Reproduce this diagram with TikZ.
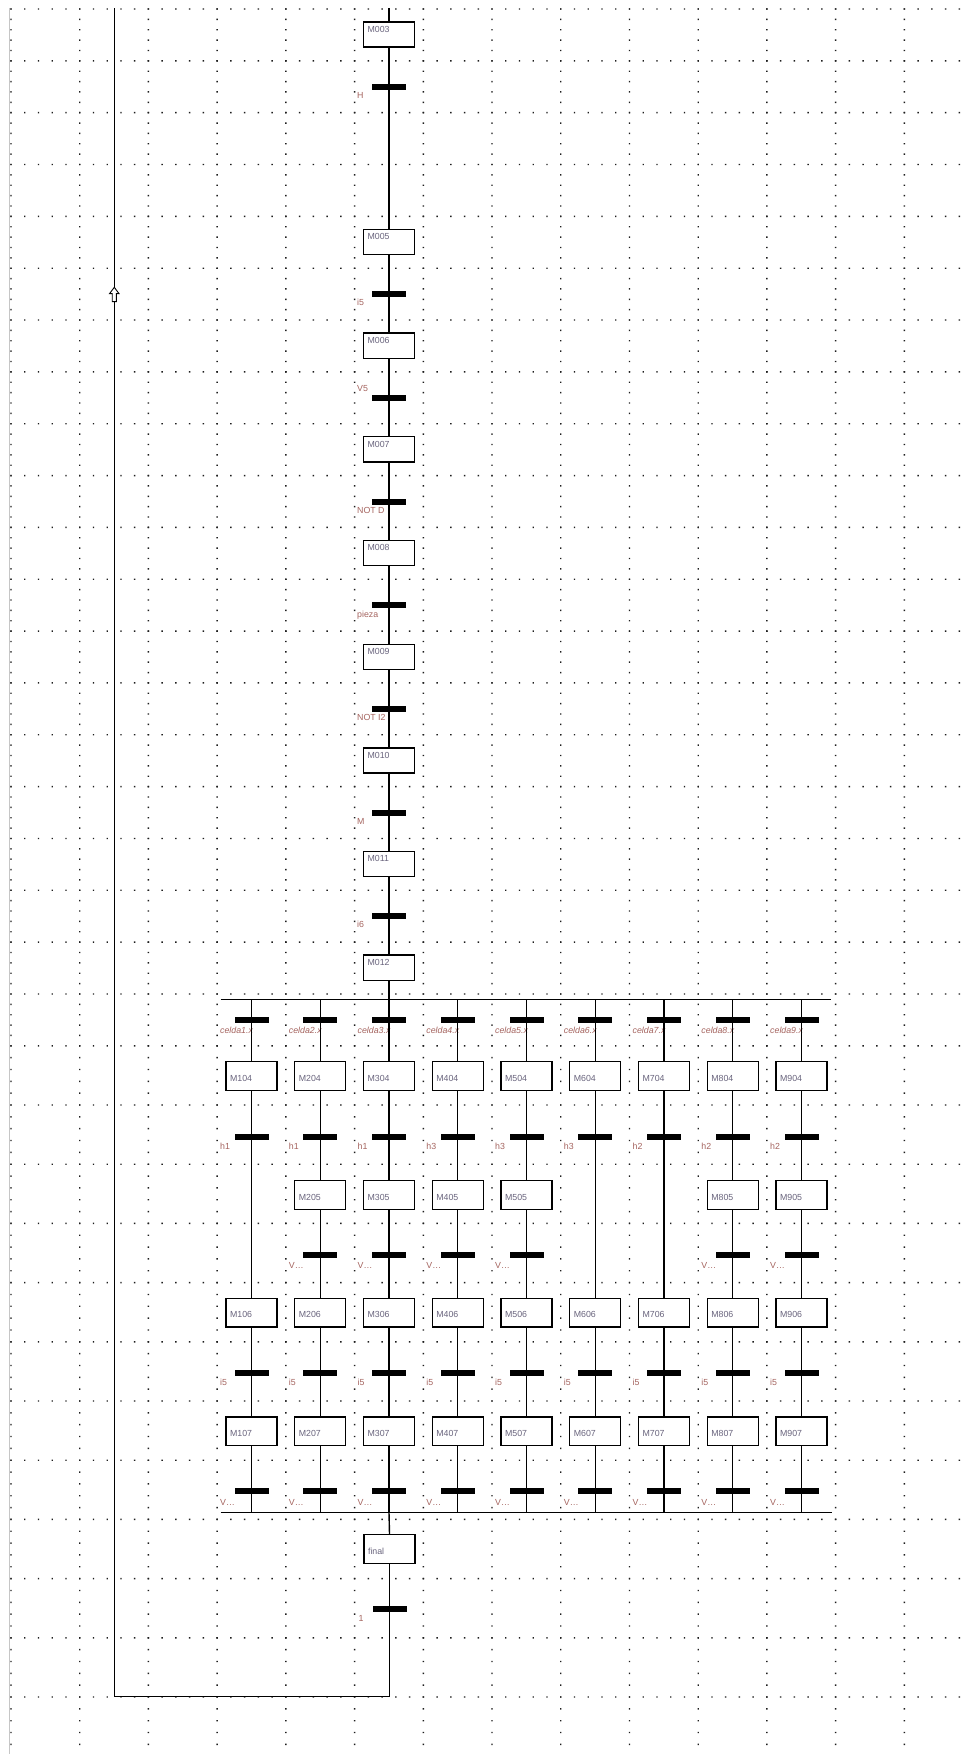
\documentclass[tikz,border=0pt]{standalone}
\usepackage{fontspec}
\setmainfont{Liberation Sans}
\definecolor{stxt}{RGB}{105,100,125}
\definecolor{ttxt}{RGB}{165,100,95}
\definecolor{dotc}{RGB}{30,30,30}
\begin{document}
\begin{tikzpicture}[x=1pt,y=-1pt,
  stepbox/.style={draw, line width=1.3pt, fill=white, minimum width=51pt, minimum height=25.1pt, inner sep=0pt},
  pstep/.style={stepbox, minimum height=28.7pt},
  steptxt/.style={anchor=west, xshift=4.5pt, yshift=-8pt, inner sep=0pt, font=\fontsize{8.8}{10}\selectfont, text=stxt},
  ptxt/.style={steptxt, yshift=-9pt},
  trbar/.style={fill=black, minimum width=34pt, minimum height=6pt, inner sep=0pt},
  trlab/.style={anchor=west, inner sep=0pt, text height=6.4pt, text depth=0pt, font=\fontsize{8.8}{10}\selectfont, text=ttxt},
  flow/.style={line width=1.4pt},
  bus/.style={line width=1.3pt},
]
\useasboundingbox (0,0) rectangle (964,1754);
\fill[white] (0,0) rectangle (964,1754);

% ---------- dotted grid ----------
\foreach \k in {0,...,31}{
  \pgfmathsetmacro\ry{ifthenelse(\k<=20, 9+51.84*\k, 1045.8+59.2*(\k-20))}
  \fill[dotc] \foreach \j in {0,...,69}{ (11+13.744*\j-0.7, \ry-0.7) rectangle ++(1.4,1.4) };
}
\foreach \c in {0,...,13}{
  \pgfmathsetmacro\cx{11+68.72*\c}
  \fill[dotc] \foreach \m in {0,...,100}{ (\cx-0.7, 9+10.368*\m-0.7) rectangle ++(1.4,1.4) };
  \fill[dotc] \foreach \m in {1,...,59}{ (\cx-0.7, 1045.8+11.84*\m-0.7) rectangle ++(1.4,1.4) };
}
\coordinate (edgeT) at (9.3,8);
\coordinate (edgeB) at (9.3,1754);
\draw[gray!45, line width=0.8pt] (edgeT) -- (edgeB);

% ---------- main sequence ----------
\coordinate (top) at (389,8);
\node[stepbox, label={[steptxt]north west:M003}] (M003) at (389,34.5) {};
\node[trbar] (T1) at (389,87.3) {};
\node[trlab] (L1) at (357,95.7) {H};
\node[stepbox, label={[steptxt]north west:M005}] (M005) at (389,242.0) {};
\node[trbar] (T2) at (389,294.3) {};
\node[trlab] (L2) at (357,302.7) {i5};
\node[stepbox, label={[steptxt]north west:M006}] (M006) at (389,345.6) {};
\node[trbar] (T3) at (389,398.0) {};
\node[trlab] (L3) at (357,388.3) {V5};
\node[stepbox, label={[steptxt]north west:M007}] (M007) at (389,449.3) {};
\node[trbar] (T4) at (389,501.7) {};
\node[trlab] (L4) at (357,510.7) {NOT D};
\node[stepbox, label={[steptxt]north west:M008}] (M008) at (389,553.0) {};
\node[trbar] (T5) at (389,605.3) {};
\node[trlab] (L5) at (357,614.3) {pieza};
\node[stepbox, label={[steptxt]north west:M009}] (M009) at (389,656.7) {};
\node[trbar] (T6) at (389,709.0) {};
\node[trlab] (L6) at (357,717.7) {NOT I2};
\node[stepbox, label={[steptxt]north west:M010}] (M010) at (389,760.4) {};
\node[trbar] (T7) at (389,812.7) {};
\node[trlab] (L7) at (357,821.0) {M};
\node[stepbox, label={[steptxt]north west:M011}] (M011) at (389,864.1) {};
\node[trbar] (T8) at (389,916.3) {};
\node[trlab] (L8) at (357,924.3) {i6};
\node[stepbox, label={[steptxt]north west:M012}] (M012) at (389,967.6) {};

\draw[flow] (top) -- (M003.north);
\draw[flow] (M003.south) -- (T1.center) -- (M005.north);
\draw[flow] (M005.south) -- (T2.center) -- (M006.north);
\draw[flow] (M006.south) -- (T3.center) -- (M007.north);
\draw[flow] (M007.south) -- (T4.center) -- (M008.north);
\draw[flow] (M008.south) -- (T5.center) -- (M009.north);
\draw[flow] (M009.south) -- (T6.center) -- (M010.north);
\draw[flow] (M010.south) -- (T7.center) -- (M011.north);
\draw[flow] (M011.south) -- (T8.center) -- (M012.north);

% ---------- parallel section ----------
\coordinate (busL) at (220.7,999.5);
\coordinate (busR) at (830.7,999.5);
\coordinate (div) at (389,999.5);
\coordinate (cbusL) at (220.7,1512.5);
\coordinate (cbusR) at (832.3,1512.5);
\coordinate (conv) at (389,1512.5);
\draw[flow] (M012.south) -- (div);
\draw[bus] (busL) -- (busR);
\draw[bus] (cbusL) -- (cbusR);

\foreach \i/\hasb/\hl in {1/0/h1,2/1/h1,3/1/h1,4/1/h3,5/1/h3,6/0/h3,7/0/h2,8/1/h2,9/1/h2}{
  \pgfmathsetmacro\bx{251.5+68.75*(\i-1)}
  \pgfmathsetmacro\lx{\bx-31.5}
  \coordinate (d\i) at (\bx,999.5);
  \coordinate (c\i) at (\bx,1512.5);
  \node[trbar] (ta\i) at (\bx,1020.3) {};
  \node[trlab, font=\fontsize{8.8}{10}\selectfont\itshape] (la\i) at (\lx,1029.8) {celda\i.x};
  \node[pstep, label={[ptxt]north west:M\i04}] (A\i) at (\bx,1076) {};
  \node[trbar] (tb\i) at (\bx,1136.7) {};
  \node[trlab] (lb\i) at (\lx,1146.2) {\hl};
  \node[pstep, label={[ptxt]north west:M\i06}] (C\i) at (\bx,1312.7) {};
  \node[trbar] (td\i) at (\bx,1372.7) {};
  \node[trlab] (ld\i) at (\lx,1382.7) {i5};
  \node[pstep, label={[ptxt]north west:M\i07}] (D\i) at (\bx,1431.3) {};
  \node[trbar] (te\i) at (\bx,1491) {};
  \node[trlab] (le\i) at (\lx,1502) {V…};
  \draw[flow] (d\i) -- (ta\i.center) -- (A\i.north);
  \ifnum\hasb=1
    \node[pstep, label={[ptxt]north west:M\i05}] (B\i) at (\bx,1195) {};
    \node[trbar] (tc\i) at (\bx,1254.7) {};
    \node[trlab] (lc\i) at (\lx,1265) {V…};
    \draw[flow] (A\i.south) -- (tb\i.center) -- (B\i.north);
    \draw[flow] (B\i.south) -- (tc\i.center) -- (C\i.north);
  \else
    \draw[flow] (A\i.south) -- (tb\i.center) -- (C\i.north);
  \fi
  \draw[flow] (C\i.south) -- (td\i.center) -- (D\i.north);
  \draw[flow] (D\i.south) -- (te\i.center) -- (c\i);
}

% ---------- final step and loop back ----------
\node[pstep, label={[ptxt]north west:final}] (final) at (389.5,1549) {};
\node[trbar] (Tf) at (389.5,1609.3) {};
\node[trlab] (Lf) at (358.5,1618.3) {1};
\coordinate (ret1) at (389.5,1696.7);
\coordinate (ret2) at (114.3,1696.7);
\coordinate (ret3) at (114.3,8);
\draw[flow] (conv) -- (final.north);
\draw[flow] (final.south) -- (Tf.center) -- (ret1) -- (ret2) -- (ret3);
\draw[line width=0.9pt, fill=white] (114.3,287.3) -- (119,293.6) -- (116.4,293.6) -- (116.4,301.6) -- (112.2,301.6) -- (112.2,293.6) -- (109.6,293.6) -- cycle;
\end{tikzpicture}
\end{document}
